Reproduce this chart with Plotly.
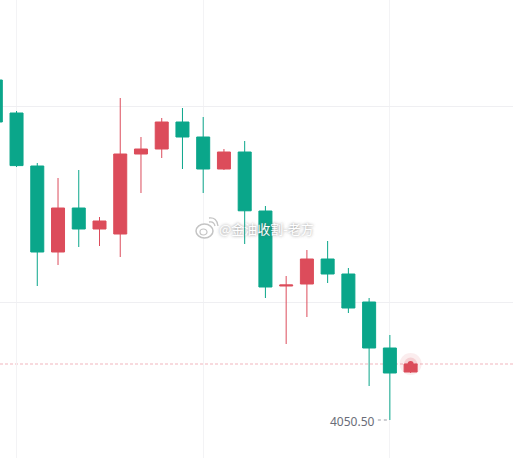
import plotly.graph_objects as go

# ---- data ----
idx = list(range(21))
opens  = [4135.5, 4127.25, 4114.0, 4092.5, 4103.5, 4098.25, 4097.0, 4117.0, 4118.25, 4125.0,
          4121.25, 4113.25, 4117.5, 4102.75, 4084.0, 4084.5, 4090.75, 4087.0, 4080.0, 4068.5, 4062.5]
highs  = [4136.0, 4127.75, 4114.75, 4111.0, 4113.0, 4101.25, 4131.0, 4121.25, 4126.0, 4128.5,
          4126.25, 4118.25, 4120.25, 4104.0, 4086.5, 4093.0, 4095.25, 4088.5, 4081.0, 4071.75, 4065.0]
lows   = [4124.75, 4113.75, 4084.0, 4089.25, 4093.75, 4094.0, 4091.25, 4107.25, 4116.0, 4113.25,
          4107.25, 4113.0, 4094.5, 4081.0, 4069.5, 4076.25, 4084.75, 4077.25, 4059.0, 4050.5, 4062.25]
closes = [4125.0, 4114.1, 4092.5, 4103.5, 4098.25, 4100.25, 4117.0, 4118.25, 4125.0, 4121.25,
          4113.25, 4117.5, 4102.8, 4083.75, 4084.25, 4090.75, 4087.0, 4078.5, 4068.5, 4062.25, 4064.5]
time_grid = [1, 10, 19]
price_grid = [4080, 4129]
low_label = "4050.50"
watermark = "@金油收割-老方"

RED = "#dc4c5b"
GREEN = "#0aa68a"

low_i = lows.index(min(lows))
last_i = idx[-1]

fig = go.Figure()
# glow behind last price
fig.add_trace(go.Scatter(x=[last_i], y=[closes[-1]], mode="markers",
                         marker=dict(size=22, color="rgba(220,76,91,0.10)"), hoverinfo="skip"))
fig.add_trace(go.Scatter(x=[last_i], y=[closes[-1]], mode="markers",
                         marker=dict(size=13, color="rgba(220,76,91,0.18)"), hoverinfo="skip"))
fig.add_trace(go.Candlestick(
    x=idx, open=opens, high=highs, low=lows, close=closes,
    increasing=dict(line=dict(color=RED, width=1), fillcolor=RED),
    decreasing=dict(line=dict(color=GREEN, width=1), fillcolor=GREEN),
    whiskerwidth=0, hoverinfo="skip"))
fig.add_trace(go.Scatter(x=[last_i], y=[closes[-1]], mode="markers",
                         marker=dict(size=6, color=RED), hoverinfo="skip"))

# last price dashed line
fig.add_shape(type="line", xref="paper", x0=0, x1=1, yref="y", y0=closes[-1], y1=closes[-1],
              line=dict(color="rgba(232,120,135,0.55)", width=1, dash="3px,2px"), layer="below")
# dotted leader to the low
fig.add_shape(type="line", xref="x", xsizemode="pixel", xanchor=low_i, x0=-12, x1=-2,
              yref="y", y0=lows[low_i], y1=lows[low_i],
              line=dict(color="#9a9ca5", width=1, dash="dot"))
fig.add_annotation(x=low_i, y=lows[low_i], xref="x", yref="y", text=low_label,
                   showarrow=False, xanchor="right", yanchor="middle", xshift=-13, yshift=-1,
                   font=dict(family="Noto Sans", size=12, color="#6a6d78"))

# watermark
W, H = 513, 458
def px(x): return x / W
def py(y): return 1 - y / H
fig.add_annotation(x=px(266), y=py(228), xref="paper", yref="paper", text=watermark,
                   showarrow=False, xanchor="center", yanchor="middle",
                   font=dict(family="Noto Sans CJK SC", size=13, color="#ffffff",
                             shadow="0px 0px 3px rgba(90,90,90,0.75)"))
# weibo-like logo (rough)
fig.add_shape(type="circle", xref="paper", yref="paper",
              x0=px(196), x1=px(213), y0=py(238), y1=py(224),
              line=dict(color="#c4c4c4", width=1.5), fillcolor="rgba(255,255,255,0.9)")
fig.add_shape(type="circle", xref="paper", yref="paper",
              x0=px(200), x1=px(207), y0=py(235), y1=py(229),
              line=dict(color="#c4c4c4", width=1.2))
fig.add_shape(type="path", xref="paper", yref="paper",
              path=f"M {px(209)},{py(222)} Q {px(214)},{py(221)} {px(215)},{py(226)}",
              line=dict(color="#c4c4c4", width=1.3))
fig.add_shape(type="path", xref="paper", yref="paper",
              path=f"M {px(209)},{py(218)} Q {px(217)},{py(217)} {px(218)},{py(226)}",
              line=dict(color="#c4c4c4", width=1.3))

fig.update_layout(
    width=W, height=H, margin=dict(l=0, r=0, t=0, b=0),
    paper_bgcolor="white", plot_bgcolor="white", showlegend=False,
    boxgap=0.373, boxgroupgap=0,
    xaxis=dict(range=[0.2025, 24.937], tickvals=time_grid, showticklabels=False,
               showgrid=True, gridcolor="#f3f3f5", zeroline=False, showline=False,
               rangeslider=dict(visible=False), fixedrange=True),
    yaxis=dict(range=[4041.0, 4155.5], tickvals=price_grid, showticklabels=False,
               showgrid=True, gridcolor="#efeff2", zeroline=False, showline=False,
               fixedrange=True),
)
fig.write_html("out.html", config=dict(displayModeBar=False))
